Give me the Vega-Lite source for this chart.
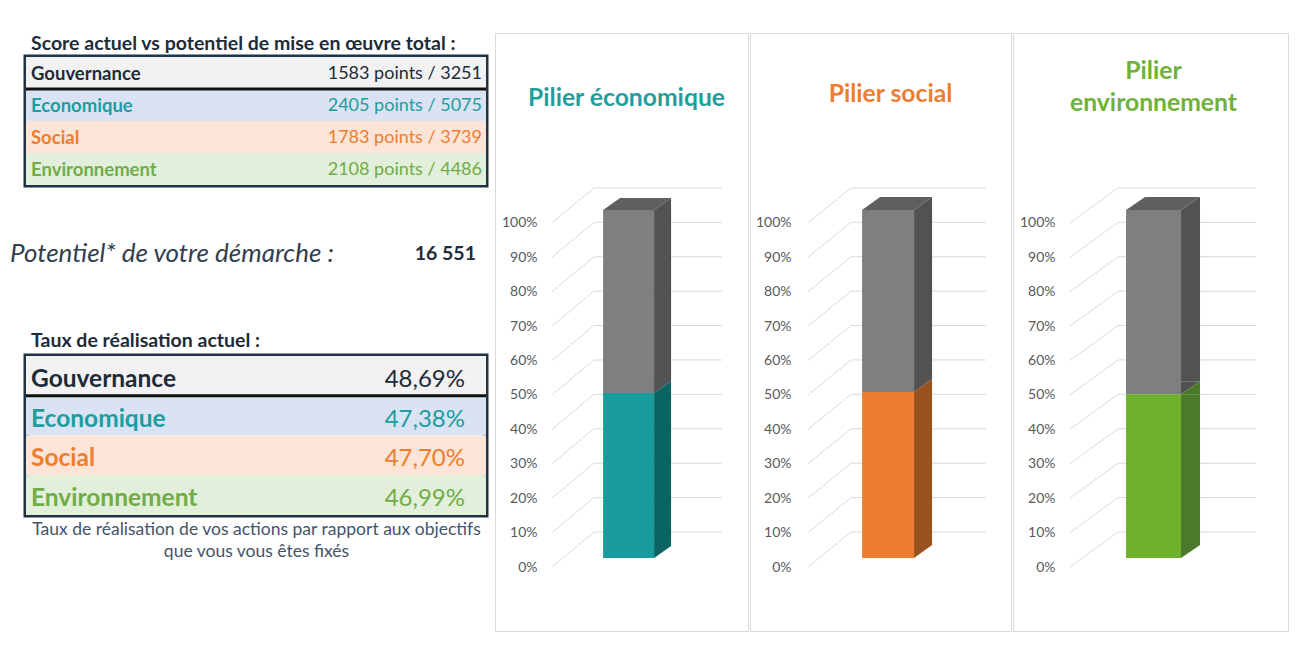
{
  "$schema": "https://vega.github.io/schema/vega-lite/v6.json",
  "padding": {"left": 10, "top": 32, "right": 0, "bottom": 0},
  "background": "white",
  "config": {
    "font": "Lato",
    "view": {"stroke": null},
    "locale": {"number": {"decimal": ",", "thousands": " ", "grouping": [3], "currency": ["", " €"]}}
  },
  "datasets": {
    "axes": [
      {"axe": "Gouvernance", "points": 1583, "potentiel": 3251, "taux": 0.4869},
      {"axe": "Economique", "points": 2405, "potentiel": 5075, "taux": 0.4738},
      {"axe": "Social", "points": 1783, "potentiel": 3739, "taux": 0.477},
      {"axe": "Environnement", "points": 2108, "potentiel": 4486, "taux": 0.4699}
    ],
    "graduations": [
      {"niveau": 0}, {"niveau": 0.1}, {"niveau": 0.2}, {"niveau": 0.3}, {"niveau": 0.4}, {"niveau": 0.5},
      {"niveau": 0.6}, {"niveau": 0.7}, {"niveau": 0.8}, {"niveau": 0.9}, {"niveau": 1}
    ]
  },
  "spacing": 4,
  "hconcat": [
    {
      "spacing": 0,
      "vconcat": [
        {
          "data": {"values": [{"intitule": "Score actuel vs potentiel de mise en œuvre total :"}]},
          "width": 460,
          "height": 21,
          "mark": {"type": "text", "align": "left", "dx": 5, "fontSize": 19.5, "fontWeight": "bold", "color": "#1e2b38"},
          "encoding": {
            "x": {"datum": 0, "type": "quantitative", "scale": {"domain": [0, 1]}, "axis": null},
            "text": {"field": "intitule", "type": "nominal"}
          }
        },
        {
          "data": {"name": "axes"},
          "width": 460,
          "height": 128,
          "view": {"stroke": "#1f3344", "strokeWidth": 5},
          "transform": [{"calculate": "datum.points + ' points / ' + datum.potentiel", "as": "score"}],
          "layer": [
            {
              "mark": {"type": "rect"},
              "encoding": {
                "y": {"field": "axe", "type": "nominal", "sort": ["Gouvernance", "Economique", "Social", "Environnement"], "scale": {"paddingInner": 0, "paddingOuter": 0}, "axis": null},
                "fill": {"field": "axe", "type": "nominal", "scale": {"domain": ["Gouvernance", "Economique", "Social", "Environnement"], "range": ["#f2f2f2", "#dae3f3", "#fce4d6", "#e2efda"]}, "legend": null}
              }
            },
            {
              "transform": [{"filter": "datum.axe === 'Economique'"}],
              "mark": {"type": "rule", "color": "#111111", "strokeWidth": 3},
              "encoding": {
                "y": {"field": "axe", "type": "nominal", "sort": ["Gouvernance", "Economique", "Social", "Environnement"], "bandPosition": 0, "axis": null}
              }
            },
            {
              "mark": {"type": "text", "align": "left", "dx": 5, "dy": 1, "fontSize": 18.5, "fontWeight": "bold"},
              "encoding": {
                "y": {"field": "axe", "type": "nominal", "sort": ["Gouvernance", "Economique", "Social", "Environnement"], "axis": null},
                "x": {"datum": 0, "type": "quantitative", "scale": {"domain": [0, 1]}, "axis": null},
                "text": {"field": "axe", "type": "nominal"},
                "color": {"field": "axe", "type": "nominal", "scale": {"domain": ["Gouvernance", "Economique", "Social", "Environnement"], "range": ["#1e2b38", "#1c9ea0", "#ed7d31", "#70ad47"]}, "legend": null}
              }
            },
            {
              "mark": {"type": "text", "align": "right", "dx": -4, "dy": 1, "fontSize": 18},
              "encoding": {
                "y": {"field": "axe", "type": "nominal", "sort": ["Gouvernance", "Economique", "Social", "Environnement"], "axis": null},
                "x": {"datum": 1, "type": "quantitative", "axis": null},
                "text": {"field": "score", "type": "nominal"},
                "color": {"field": "axe", "type": "nominal", "legend": null}
              }
            }
          ]
        },
        {
          "data": {"name": "axes"},
          "width": 460,
          "height": 131,
          "transform": [{"aggregate": [{"op": "sum", "field": "potentiel", "as": "total"}]}],
          "layer": [
            {
              "mark": {"type": "text", "text": "Potentiel* de votre démarche :", "align": "left", "dx": -16, "fontSize": 26, "fontStyle": "italic", "color": "#333f50"},
              "encoding": {"x": {"datum": 0, "type": "quantitative", "scale": {"domain": [0, 1]}, "axis": null}}
            },
            {
              "mark": {"type": "text", "align": "right", "dx": -10, "fontSize": 19.5, "fontWeight": "bold", "color": "#1e2b38"},
              "encoding": {
                "x": {"datum": 1, "type": "quantitative", "axis": null},
                "text": {"field": "total", "type": "quantitative", "format": ",d"}
              }
            }
          ]
        },
        {
          "data": {"values": [{"intitule": "Taux de réalisation actuel :"}]},
          "width": 460,
          "height": 34,
          "mark": {"type": "text", "align": "left", "dx": 5, "dy": 5, "fontSize": 19.5, "fontWeight": "bold", "color": "#1e2b38"},
          "encoding": {
            "x": {"datum": 0, "type": "quantitative", "scale": {"domain": [0, 1]}, "axis": null},
            "text": {"field": "intitule", "type": "nominal"}
          }
        },
        {
          "data": {"name": "axes"},
          "width": 460,
          "height": 159,
          "view": {"stroke": "#1f3344", "strokeWidth": 5},
          "layer": [
            {
              "mark": {"type": "rect"},
              "encoding": {
                "y": {"field": "axe", "type": "nominal", "sort": ["Gouvernance", "Economique", "Social", "Environnement"], "scale": {"paddingInner": 0, "paddingOuter": 0}, "axis": null},
                "fill": {"field": "axe", "type": "nominal", "scale": {"domain": ["Gouvernance", "Economique", "Social", "Environnement"], "range": ["#f2f2f2", "#dae3f3", "#fce4d6", "#e2efda"]}, "legend": null}
              }
            },
            {
              "transform": [{"filter": "datum.axe === 'Economique'"}],
              "mark": {"type": "rule", "color": "#111111", "strokeWidth": 3},
              "encoding": {
                "y": {"field": "axe", "type": "nominal", "sort": ["Gouvernance", "Economique", "Social", "Environnement"], "bandPosition": 0, "axis": null}
              }
            },
            {
              "mark": {"type": "text", "align": "left", "dx": 5, "dy": 4, "fontSize": 24.5, "fontWeight": "bold"},
              "encoding": {
                "y": {"field": "axe", "type": "nominal", "sort": ["Gouvernance", "Economique", "Social", "Environnement"], "axis": null},
                "x": {"datum": 0, "type": "quantitative", "scale": {"domain": [0, 1]}, "axis": {"title": ["Taux de réalisation de vos actions par rapport aux objectifs", "que vous vous êtes fixés"], "labels": false, "ticks": false, "domain": false, "grid": false, "titleFontSize": 17.5, "titleFontWeight": "normal", "titleColor": "#44546a", "titlePadding": 5, "titleLineHeight": 22}},
                "text": {"field": "axe", "type": "nominal"},
                "color": {"field": "axe", "type": "nominal", "scale": {"domain": ["Gouvernance", "Economique", "Social", "Environnement"], "range": ["#1e2b38", "#1c9ea0", "#ed7d31", "#70ad47"]}, "legend": null}
              }
            },
            {
              "mark": {"type": "text", "align": "right", "dx": -21, "dy": 4, "fontSize": 24},
              "encoding": {
                "y": {"field": "axe", "type": "nominal", "sort": ["Gouvernance", "Economique", "Social", "Environnement"], "axis": null},
                "x": {"datum": 1, "type": "quantitative"},
                "text": {"field": "taux", "type": "quantitative", "format": ".2%"},
                "color": {"field": "axe", "type": "nominal", "legend": null}
              }
            }
          ]
        }
      ]
    },
    {
      "spacing": 0,
      "hconcat": [
        {
          "width": 253,
          "height": 598,
          "view": {"stroke": "#d9d9d9", "strokeWidth": 1},
          "title": {"text": "Pilier économique", "color": "#1f9e9e", "fontSize": 24.7, "fontWeight": "bold", "anchor": "middle", "baseline": "middle", "offset": -91, "dx": 5},
          "layer": [
            {
              "data": {"name": "graduations"},
              "mark": {"type": "rule", "color": "#d9d9d9", "strokeWidth": 1, "y2Offset": -35},
              "encoding": {
                "x": {"datum": 22.5, "type": "quantitative", "scale": {"domain": [0, 100], "padding": 0}, "axis": null},
                "x2": {"datum": 39.1},
                "y": {"field": "niveau", "type": "quantitative", "scale": {"domain": [-0.186, 1.552], "nice": false, "padding": 0}, "title": null, "axis": {"values": [0, 0.1, 0.2, 0.3, 0.4, 0.5, 0.6, 0.7, 0.8, 0.9, 1], "format": ".0%", "domain": false, "ticks": false, "tickSize": 0, "grid": false, "labelFontSize": 14, "labelColor": "#595959", "labelPadding": 0, "offset": -42}},
                "y2": {"field": "niveau"}
              }
            },
            {
              "data": {"name": "graduations"},
              "mark": {"type": "rule", "color": "#d9d9d9", "strokeWidth": 1, "yOffset": -35},
              "encoding": {
                "x": {"datum": 39.1, "type": "quantitative", "axis": null},
                "x2": {"datum": 89.7},
                "y": {"field": "niveau", "type": "quantitative", "title": null}
              }
            },
            {
              "data": {"name": "axes"},
              "transform": [{"filter": "datum.axe === 'Economique'"}],
              "layer": [
                {
                  "mark": {"type": "bar", "color": "#7f7f7f", "size": 51, "yOffset": -11, "y2Offset": -13},
                  "encoding": {"x": {"datum": 52.8, "type": "quantitative", "axis": null}, "y": {"field": "taux", "type": "quantitative", "title": null}, "y2": {"datum": 1}}
                },
                {
                  "mark": {"type": "bar", "color": "#525252", "size": 17, "xOffset": 34, "yOffset": -23, "y2Offset": -13},
                  "encoding": {"x": {"datum": 52.8, "type": "quantitative", "axis": null}, "y": {"field": "taux", "type": "quantitative", "title": null}, "y2": {"datum": 1}}
                },
                {
                  "mark": {"type": "point", "shape": "M0,0 L17,-12 L17,0 Z", "size": 4, "filled": true, "opacity": 1, "color": "#525252", "xOffset": 25.5, "yOffset": -13},
                  "encoding": {"x": {"datum": 52.8, "type": "quantitative", "axis": null}, "y": {"datum": 1, "type": "quantitative", "title": null}}
                },
                {
                  "mark": {"type": "point", "shape": "M0,-12 L0,0 L17,-12 Z", "size": 4, "filled": true, "opacity": 1, "color": "#525252", "xOffset": 25.5, "yOffset": -11},
                  "encoding": {"x": {"datum": 52.8, "type": "quantitative", "axis": null}, "y": {"field": "taux", "type": "quantitative", "title": null}}
                },
                {
                  "mark": {"type": "point", "shape": "M-25.5,0 L25.5,0 L42.5,-12 L-8.5,-12 Z", "size": 4, "filled": true, "opacity": 1, "color": "#5f5f5f", "yOffset": -13},
                  "encoding": {"x": {"datum": 52.8, "type": "quantitative", "axis": null}, "y": {"datum": 1, "type": "quantitative", "title": null}}
                },
                {
                  "mark": {"type": "bar", "color": "#1a9b9b", "size": 51, "yOffset": -11, "y2Offset": -9},
                  "encoding": {"x": {"datum": 52.8, "type": "quantitative", "axis": null}, "y": {"field": "taux", "type": "quantitative", "title": null}, "y2": {"datum": 0}}
                },
                {
                  "mark": {"type": "bar", "color": "#0b6463", "size": 17, "xOffset": 34, "yOffset": -11, "y2Offset": -21},
                  "encoding": {"x": {"datum": 52.8, "type": "quantitative", "axis": null}, "y": {"field": "taux", "type": "quantitative", "title": null}, "y2": {"datum": 0}}
                },
                {
                  "mark": {"type": "point", "shape": "M0,0 L17,-12 L17,0 Z", "size": 4, "filled": true, "opacity": 1, "color": "#0b6463", "xOffset": 25.5, "yOffset": -11},
                  "encoding": {"x": {"datum": 52.8, "type": "quantitative", "axis": null}, "y": {"field": "taux", "type": "quantitative", "title": null}}
                },
                {
                  "mark": {"type": "point", "shape": "M0,-12 L0,0 L17,-12 Z", "size": 4, "filled": true, "opacity": 1, "color": "#0b6463", "xOffset": 25.5, "yOffset": -9},
                  "encoding": {"x": {"datum": 52.8, "type": "quantitative", "axis": null}, "y": {"datum": 0, "type": "quantitative", "title": null}}
                }
              ]
            }
          ]
        },
        {
          "width": 261,
          "height": 598,
          "view": {"stroke": "#d9d9d9", "strokeWidth": 1},
          "title": {"text": "Pilier social", "color": "#ed7d31", "fontSize": 24.7, "fontWeight": "bold", "anchor": "middle", "baseline": "middle", "offset": -87, "dx": 10},
          "layer": [
            {
              "data": {"name": "graduations"},
              "mark": {"type": "rule", "color": "#d9d9d9", "strokeWidth": 1, "y2Offset": -35},
              "encoding": {
                "x": {"datum": 22.2, "type": "quantitative", "scale": {"domain": [0, 100], "padding": 0}, "axis": null},
                "x2": {"datum": 38.7},
                "y": {"field": "niveau", "type": "quantitative", "scale": {"domain": [-0.186, 1.552], "nice": false, "padding": 0}, "title": null, "axis": {"values": [0, 0.1, 0.2, 0.3, 0.4, 0.5, 0.6, 0.7, 0.8, 0.9, 1], "format": ".0%", "domain": false, "ticks": false, "tickSize": 0, "grid": false, "labelFontSize": 14, "labelColor": "#595959", "labelPadding": 0, "offset": -41}},
                "y2": {"field": "niveau"}
              }
            },
            {
              "data": {"name": "graduations"},
              "mark": {"type": "rule", "color": "#d9d9d9", "strokeWidth": 1, "yOffset": -35},
              "encoding": {
                "x": {"datum": 38.7, "type": "quantitative", "axis": null},
                "x2": {"datum": 90.4},
                "y": {"field": "niveau", "type": "quantitative", "title": null}
              }
            },
            {
              "data": {"name": "axes"},
              "transform": [{"filter": "datum.axe === 'Social'"}],
              "layer": [
                {
                  "mark": {"type": "bar", "color": "#7f7f7f", "size": 52, "yOffset": -11, "y2Offset": -13},
                  "encoding": {"x": {"datum": 52.9, "type": "quantitative", "axis": null}, "y": {"field": "taux", "type": "quantitative", "title": null}, "y2": {"datum": 1}}
                },
                {
                  "mark": {"type": "bar", "color": "#525252", "size": 18, "xOffset": 35, "yOffset": -24, "y2Offset": -13},
                  "encoding": {"x": {"datum": 52.9, "type": "quantitative", "axis": null}, "y": {"field": "taux", "type": "quantitative", "title": null}, "y2": {"datum": 1}}
                },
                {
                  "mark": {"type": "point", "shape": "M0,0 L18,-13 L18,0 Z", "size": 4, "filled": true, "opacity": 1, "color": "#525252", "xOffset": 26, "yOffset": -13},
                  "encoding": {"x": {"datum": 52.9, "type": "quantitative", "axis": null}, "y": {"datum": 1, "type": "quantitative", "title": null}}
                },
                {
                  "mark": {"type": "point", "shape": "M0,-13 L0,0 L18,-13 Z", "size": 4, "filled": true, "opacity": 1, "color": "#525252", "xOffset": 26, "yOffset": -11},
                  "encoding": {"x": {"datum": 52.9, "type": "quantitative", "axis": null}, "y": {"field": "taux", "type": "quantitative", "title": null}}
                },
                {
                  "mark": {"type": "point", "shape": "M-26,0 L26,0 L44,-13 L-8,-13 Z", "size": 4, "filled": true, "opacity": 1, "color": "#5f5f5f", "yOffset": -13},
                  "encoding": {"x": {"datum": 52.9, "type": "quantitative", "axis": null}, "y": {"datum": 1, "type": "quantitative", "title": null}}
                },
                {
                  "mark": {"type": "bar", "color": "#ed7d31", "size": 52, "yOffset": -11, "y2Offset": -9},
                  "encoding": {"x": {"datum": 52.9, "type": "quantitative", "axis": null}, "y": {"field": "taux", "type": "quantitative", "title": null}, "y2": {"datum": 0}}
                },
                {
                  "mark": {"type": "bar", "color": "#9a521f", "size": 18, "xOffset": 35, "yOffset": -11, "y2Offset": -22},
                  "encoding": {"x": {"datum": 52.9, "type": "quantitative", "axis": null}, "y": {"field": "taux", "type": "quantitative", "title": null}, "y2": {"datum": 0}}
                },
                {
                  "mark": {"type": "point", "shape": "M0,0 L18,-13 L18,0 Z", "size": 4, "filled": true, "opacity": 1, "color": "#9a521f", "xOffset": 26, "yOffset": -11},
                  "encoding": {"x": {"datum": 52.9, "type": "quantitative", "axis": null}, "y": {"field": "taux", "type": "quantitative", "title": null}}
                },
                {
                  "mark": {"type": "point", "shape": "M0,-13 L0,0 L18,-13 Z", "size": 4, "filled": true, "opacity": 1, "color": "#9a521f", "xOffset": 26, "yOffset": -9},
                  "encoding": {"x": {"datum": 52.9, "type": "quantitative", "axis": null}, "y": {"datum": 0, "type": "quantitative", "title": null}}
                }
              ]
            }
          ]
        },
        {
          "width": 275,
          "height": 598,
          "view": {"stroke": "#d9d9d9", "strokeWidth": 1},
          "title": {"text": ["Pilier", "environnement"], "color": "#6fb13a", "fontSize": 24.7, "fontWeight": "bold", "anchor": "middle", "baseline": "middle", "lineHeight": 32, "offset": -96, "dx": 3},
          "layer": [
            {
              "data": {"name": "graduations"},
              "mark": {"type": "rule", "color": "#d9d9d9", "strokeWidth": 1, "y2Offset": -35},
              "encoding": {
                "x": {"datum": 20.7, "type": "quantitative", "scale": {"domain": [0, 100], "padding": 0}, "axis": null},
                "x2": {"datum": 38.2},
                "y": {"field": "niveau", "type": "quantitative", "scale": {"domain": [-0.186, 1.552], "nice": false, "padding": 0}, "title": null, "axis": {"values": [0, 0.1, 0.2, 0.3, 0.4, 0.5, 0.6, 0.7, 0.8, 0.9, 1], "format": ".0%", "domain": false, "ticks": false, "tickSize": 0, "grid": false, "labelFontSize": 14, "labelColor": "#595959", "labelPadding": 0, "offset": -42}},
                "y2": {"field": "niveau"}
              }
            },
            {
              "data": {"name": "graduations"},
              "mark": {"type": "rule", "color": "#d9d9d9", "strokeWidth": 1, "yOffset": -35},
              "encoding": {
                "x": {"datum": 38.2, "type": "quantitative", "axis": null},
                "x2": {"datum": 88.4},
                "y": {"field": "niveau", "type": "quantitative", "title": null}
              }
            },
            {
              "data": {"name": "axes"},
              "transform": [{"filter": "datum.axe === 'Environnement'"}],
              "layer": [
                {
                  "mark": {"type": "bar", "color": "#7f7f7f", "size": 55, "yOffset": -11, "y2Offset": -13},
                  "encoding": {"x": {"datum": 51.1, "type": "quantitative", "axis": null}, "y": {"field": "taux", "type": "quantitative", "title": null}, "y2": {"datum": 1}}
                },
                {
                  "mark": {"type": "bar", "color": "#525252", "size": 19, "xOffset": 37, "yOffset": -24, "y2Offset": -13},
                  "encoding": {"x": {"datum": 51.1, "type": "quantitative", "axis": null}, "y": {"field": "taux", "type": "quantitative", "title": null}, "y2": {"datum": 1}}
                },
                {
                  "mark": {"type": "point", "shape": "M0,0 L19,-13 L19,0 Z", "size": 4, "filled": true, "opacity": 1, "color": "#525252", "xOffset": 27.5, "yOffset": -13},
                  "encoding": {"x": {"datum": 51.1, "type": "quantitative", "axis": null}, "y": {"datum": 1, "type": "quantitative", "title": null}}
                },
                {
                  "mark": {"type": "point", "shape": "M0,-13 L0,0 L19,-13 Z", "size": 4, "filled": true, "opacity": 1, "color": "#525252", "xOffset": 27.5, "yOffset": -11},
                  "encoding": {"x": {"datum": 51.1, "type": "quantitative", "axis": null}, "y": {"field": "taux", "type": "quantitative", "title": null}}
                },
                {
                  "mark": {"type": "point", "shape": "M-27.5,0 L27.5,0 L46.5,-13 L-8.5,-13 Z", "size": 4, "filled": true, "opacity": 1, "color": "#5f5f5f", "yOffset": -13},
                  "encoding": {"x": {"datum": 51.1, "type": "quantitative", "axis": null}, "y": {"datum": 1, "type": "quantitative", "title": null}}
                },
                {
                  "mark": {"type": "bar", "color": "#6eb12c", "size": 55, "yOffset": -11, "y2Offset": -9},
                  "encoding": {"x": {"datum": 51.1, "type": "quantitative", "axis": null}, "y": {"field": "taux", "type": "quantitative", "title": null}, "y2": {"datum": 0}}
                },
                {
                  "mark": {"type": "bar", "color": "#4a7a2a", "size": 19, "xOffset": 37, "yOffset": -11, "y2Offset": -22},
                  "encoding": {"x": {"datum": 51.1, "type": "quantitative", "axis": null}, "y": {"field": "taux", "type": "quantitative", "title": null}, "y2": {"datum": 0}}
                },
                {
                  "mark": {"type": "point", "shape": "M0,0 L19,-13 L19,0 Z", "size": 4, "filled": true, "opacity": 1, "color": "#4a7a2a", "xOffset": 27.5, "yOffset": -11},
                  "encoding": {"x": {"datum": 51.1, "type": "quantitative", "axis": null}, "y": {"field": "taux", "type": "quantitative", "title": null}}
                },
                {
                  "mark": {"type": "point", "shape": "M0,-13 L0,0 L19,-13 Z", "size": 4, "filled": true, "opacity": 1, "color": "#4a7a2a", "xOffset": 27.5, "yOffset": -9},
                  "encoding": {"x": {"datum": 51.1, "type": "quantitative", "axis": null}, "y": {"datum": 0, "type": "quantitative", "title": null}}
                }
              ]
            }
          ]
        }
      ]
    }
  ]
}
